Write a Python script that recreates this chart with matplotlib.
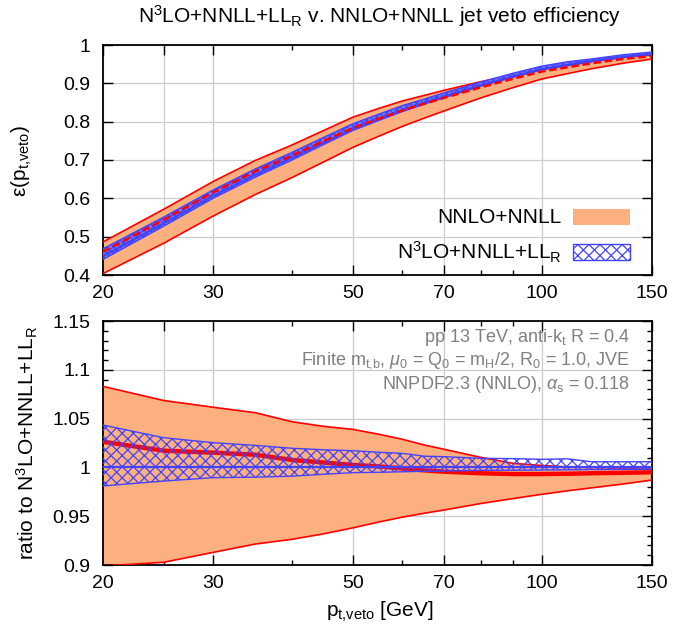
import matplotlib
matplotlib.use("Agg")
import matplotlib.pyplot as plt
from matplotlib.ticker import FixedLocator, FixedFormatter, NullFormatter
from matplotlib.patches import Rectangle
import numpy as np

plt.rcParams['font.family'] = ['Liberation Sans', 'DejaVu Sans']
plt.rcParams['mathtext.fontset'] = 'custom'
plt.rcParams['mathtext.rm'] = 'Liberation Sans'
plt.rcParams['mathtext.it'] = 'Liberation Sans:italic'
plt.rcParams['mathtext.bf'] = 'Liberation Sans:bold'
plt.rcParams['hatch.linewidth'] = 0.9

# ---------------- data ----------------
pt = [20, 25, 30, 35, 40, 45, 50, 55, 60, 65, 70, 80, 90, 100, 110, 120, 135, 150]
# N3LO+NNLL+LL_R central jet-veto efficiency
eff_n3lo = [0.449, 0.535, 0.607, 0.662, 0.706, 0.746, 0.781, 0.807, 0.830, 0.849,
            0.866, 0.895, 0.918, 0.937, 0.948, 0.958, 0.969, 0.976]
# N3LO+NNLL+LL_R band, ratio to its central value
n3lo_hi = [1.0434, 1.0304, 1.0253, 1.0225, 1.0196, 1.018, 1.0171, 1.0155, 1.0144, 1.0115,
           1.011, 1.0093, 1.009, 1.0083, 1.0088, 1.0058, 1.0058, 1.0058]
n3lo_lo = [0.981, 0.986, 0.9895, 0.990, 0.991, 0.993, 0.9946, 0.995, 0.9955, 0.996,
           0.9963, 0.997, 0.997, 0.9973, 0.9975, 0.9978, 0.998, 0.998]
# NNLO+NNLL band and central, ratio to N3LO+NNLL+LL_R central
nnlo_hi = [1.083, 1.0685, 1.0616, 1.056, 1.0468, 1.042, 1.039, 1.034, 1.0288, 1.023,
           1.0185, 1.0103, 1.0042, 1.002, 1.0005, 1.000, 0.9995, 0.9995]
nnlo_lo = [0.899, 0.9028, 0.913, 0.9215, 0.9263, 0.932, 0.938, 0.944, 0.949, 0.953,
           0.9564, 0.963, 0.968, 0.9724, 0.976, 0.979, 0.983, 0.987]
nnlo_c = [1.0263, 1.0171, 1.0151, 1.013, 1.0076, 1.005, 1.0025, 1.001, 0.999, 0.997,
          0.9956, 0.994, 0.9932, 0.9932, 0.9935, 0.994, 0.9945, 0.995]

x_major = [20, 25, 30, 50, 70, 100, 150]
x_labels = ['20', '', '30', '50', '70', '100', '150']
x_minor = [40, 60, 80, 90]
top_yticks = [0.4, 0.5, 0.6, 0.7, 0.8, 0.9, 1.0]
top_ylabels = ['0.4', '0.5', '0.6', '0.7', '0.8', '0.9', '1']
bot_yticks = [0.9, 0.95, 1.0, 1.05, 1.1, 1.15]
bot_ylabels = ['0.9', '0.95', '1', '1.05', '1.1', '1.15']

title = r'N$^3$LO+NNLL+LL$_\mathrm{R}$ v. NNLO+NNLL jet veto efficiency'
label_nnlo = 'NNLO+NNLL'
label_n3lo = r'N$^3$LO+NNLL+LL$_\mathrm{R}$'
ylabel_top = r'ε(p$_\mathrm{t{,}veto}$)'
ylabel_bot = r'ratio to N$^3$LO+NNLL+LL$_\mathrm{R}$'
xlabel = r'p$_\mathrm{t{,}veto}$ [GeV]'
notes = [r'pp 13 TeV, anti-k$_\mathrm{t}$ R = 0.4',
         r'Finite m$_\mathrm{t{,}b}$, $\mu_0$ = Q$_0$ = m$_\mathrm{H}$/2, R$_0$ = 1.0, JVE',
         r'NNPDF2.3 (NNLO), $\alpha_\mathrm{s}$ = 0.118']

# ---------------- style ----------------
ORANGE = '#FDB07F'
RED = '#FF0000'
BLUE = '#4343FF'
GRID = '#CCCCCC'
FS_TICK = 14
FS = 15
W, H = 694, 633

pt_a = np.array(pt)
c = np.array(eff_n3lo)

fig = plt.figure(figsize=(6.94, 6.33), dpi=100)
ax1 = fig.add_axes([103 / W, 1 - 275 / H, 549 / W, 230 / H])
ax2 = fig.add_axes([103 / W, 1 - 565 / H, 549 / W, 244 / H])


def style_axis(ax, yticks, ylabels, yminor=None):
    ax.set_xscale('log')
    ax.set_xlim(20, 150)
    ax.xaxis.set_major_locator(FixedLocator(x_major))
    ax.xaxis.set_major_formatter(FixedFormatter(x_labels))
    ax.xaxis.set_minor_locator(FixedLocator(x_minor))
    ax.xaxis.set_minor_formatter(NullFormatter())
    ax.yaxis.set_major_locator(FixedLocator(yticks))
    ax.yaxis.set_major_formatter(FixedFormatter(ylabels))
    if yminor is not None:
        ax.yaxis.set_minor_locator(FixedLocator(yminor))
    ax.tick_params(which='both', direction='in', top=True, right=True,
                   labelsize=FS_TICK, width=1.0, color='black')
    ax.tick_params(which='major', length=7.5)
    ax.tick_params(axis='x', which='major', pad=7)
    ax.tick_params(axis='y', which='major', pad=9)
    ax.tick_params(which='minor', length=3.8)
    ax.grid(True, which='major', color=GRID, lw=0.9)
    ax.set_axisbelow(True)
    for s in ax.spines.values():
        s.set_linewidth(1.3)


# ---------------- top panel ----------------
style_axis(ax1, top_yticks, top_ylabels)
ax1.set_ylim(0.4, 1.0)
o_hi = c * np.array(nnlo_hi)
o_lo = c * np.array(nnlo_lo)
b_hi = c * np.array(n3lo_hi)
b_lo = c * np.array(n3lo_lo)
ax1.fill_between(pt_a, o_lo, o_hi, facecolor=ORANGE, edgecolor='none', zorder=2)
ax1.plot(pt_a, o_hi, color=RED, lw=1.2, zorder=3)
ax1.plot(pt_a, o_lo, color=RED, lw=1.2, zorder=3)
ax1.fill_between(pt_a, b_lo, b_hi, facecolor='#7878FF', edgecolor=BLUE, hatch='xxxxx',
                 lw=0, zorder=4)
ax1.plot(pt_a, b_hi, color=BLUE, lw=1.0, zorder=4)
ax1.plot(pt_a, b_lo, color=BLUE, lw=1.0, zorder=4)
ax1.plot(pt_a, c, color=BLUE, lw=1.5, zorder=4)
ax1.plot(pt_a, c * np.array(nnlo_c), color=RED, lw=1.8, ls=(0, (3, 1.5)), zorder=5)
fig.text(22 / W, 1 - 161 / H, ylabel_top, fontsize=FS, rotation=90,
         ha='center', va='center')
fig.text(380 / W, 1 - 16 / H, title, fontsize=FS, ha='center', va='center')

# legend (manual, right aligned text + sample boxes)
ax1.text(0.836, 0.252, label_nnlo, transform=ax1.transAxes, ha='right', va='center',
         fontsize=FS)
ax1.text(0.836, 0.100, label_n3lo, transform=ax1.transAxes, ha='right', va='center',
         fontsize=FS)
ax1.add_patch(Rectangle((0.856, 0.252 - 0.035), 0.104, 0.07, transform=ax1.transAxes,
                        facecolor=ORANGE, edgecolor='none', zorder=6))
ax1.add_patch(Rectangle((0.856, 0.100 - 0.035), 0.104, 0.07, transform=ax1.transAxes,
                        facecolor='white', edgecolor=BLUE, hatch='xxx', lw=1.0, zorder=6))

# ---------------- bottom panel ----------------
style_axis(ax2, bot_yticks, bot_ylabels, yminor=list(np.arange(0.90, 1.1501, 0.01)))
ax2.set_ylim(0.9, 1.15)
ax2.fill_between(pt_a, nnlo_lo, nnlo_hi, facecolor=ORANGE, edgecolor='none', zorder=2)
ax2.plot(pt_a, nnlo_hi, color=RED, lw=1.2, zorder=3)
ax2.plot(pt_a, nnlo_lo, color=RED, lw=1.2, zorder=3)
ax2.plot(pt_a, nnlo_c, color=RED, lw=3.2, zorder=4, solid_capstyle='butt')
ax2.fill_between(pt_a, n3lo_lo, n3lo_hi, facecolor='none', edgecolor=BLUE, hatch='xxx',
                 lw=0, zorder=5)
ax2.plot(pt_a, n3lo_hi, color=BLUE, lw=1.0, zorder=5)
ax2.plot(pt_a, n3lo_lo, color=BLUE, lw=1.0, zorder=5)
ax2.plot(pt_a, np.ones_like(c), color=BLUE, lw=1.6, zorder=5)
fig.text(27 / W, 1 - 443 / H, ylabel_bot, fontsize=FS, rotation=90,
         ha='center', va='center')
fig.text(380 / W, 1 - 612 / H, xlabel, fontsize=FS, ha='center', va='center')

for t, yy in zip(notes, [0.934, 0.836, 0.738]):
    ax2.text(0.96, yy, t, transform=ax2.transAxes, ha='right', va='center',
             fontsize=13, color='#808080', zorder=7)

fig.savefig('out.png', dpi=100)
